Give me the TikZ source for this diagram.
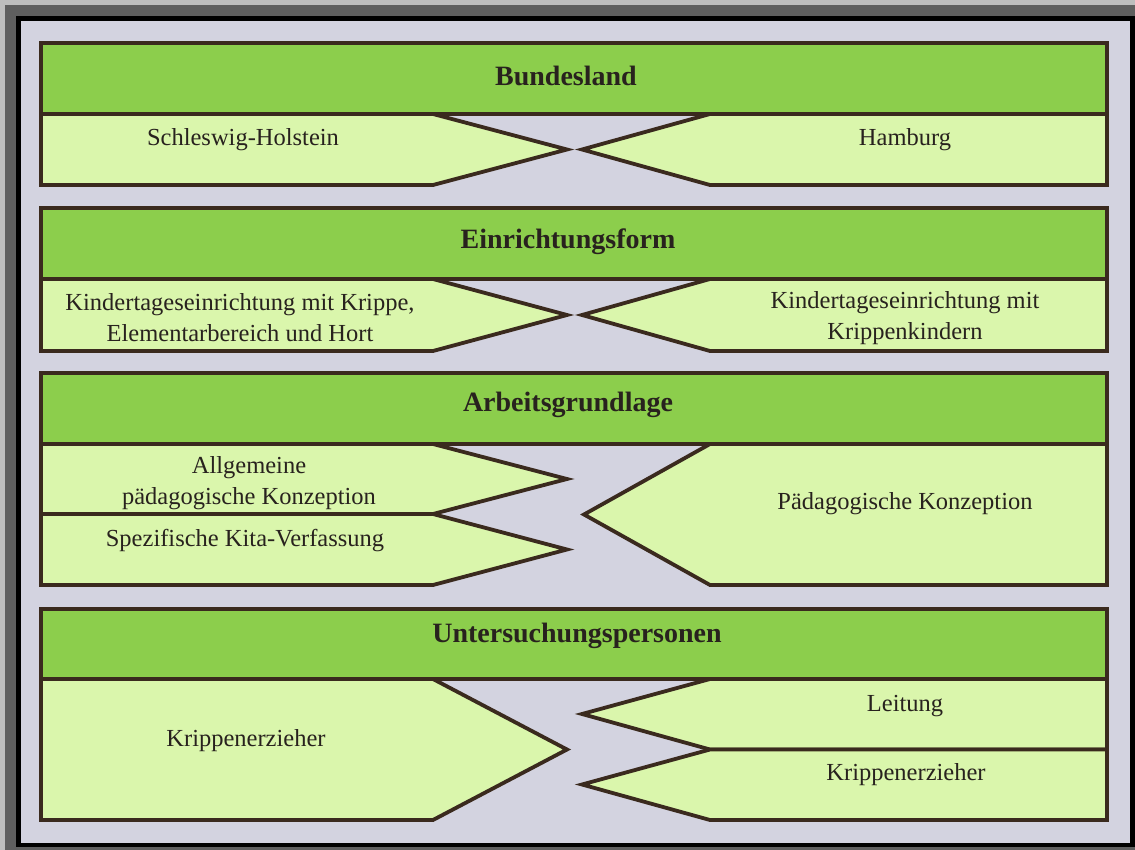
\documentclass[tikz,border=0pt]{standalone}
\usepackage{fontspec}
\setmainfont{Liberation Serif}
\definecolor{hdrgreen}{RGB}{140,206,76}
\definecolor{panegreen}{RGB}{218,246,172}
\definecolor{paper}{RGB}{211,211,224}
\definecolor{edge}{RGB}{58,42,30}
\definecolor{ink}{RGB}{40,34,30}
\definecolor{frameout}{RGB}{190,190,190}
\definecolor{framemid}{RGB}{95,95,95}
\tikzset{
  hdr/.style={fill=hdrgreen, draw=edge, line width=3.8pt},
  pane/.style={fill=panegreen, draw=edge, line width=3.8pt, line join=miter},
  hdrtext/.style={font=\fontsize{28}{32}\selectfont\bfseries, text=ink},
  panetext/.style={font=\fontsize{24.5}{31}\selectfont, text=ink, align=center},
}
\begin{document}
\begin{tikzpicture}[x=1pt, y=-1pt]
      \useasboundingbox (0,0) rectangle (1135,850);
      \fill[frameout] (0,0) rectangle (1135,850);   % frame
      \fill[framemid] (5,5) rectangle (1135,850);
      \fill[black] (16,16) rectangle (1135,847);
      \fill[paper] (21,21) rectangle (1130,843);
      %
      \draw[hdr] (41,43) rectangle (1107,114);   % Bundesland
      \draw[pane] (41,114) -- (433,114) -- (567,149.5) -- (433,185) -- (41,185) -- cycle;
      \draw[pane] (1107,114) -- (710,114) -- (582,149.5) -- (710,185) -- (1107,185) -- cycle;
      \node[hdrtext] (land) at (566,76) {Bundesland};
      \node[panetext] (sh) at (243,140) {Schleswig-Holstein};
      \node[panetext] (hh) at (905,140) {Hamburg};
      %
      \draw[hdr] (41,208) rectangle (1107,279);   % Einrichtungsform
      \draw[pane] (41,279) -- (433,279) -- (567,315) -- (433,351) -- (41,351) -- cycle;
      \draw[pane] (1107,279) -- (710,279) -- (582,315) -- (710,351) -- (1107,351) -- cycle;
      \node[hdrtext] (form) at (568,242) {Einrichtungsform};
      \node[panetext] (kitaall) at (240,318) {Kindertageseinrichtung mit Krippe,\\Elementarbereich und Hort};
      \node[panetext] (kitakr) at (905,318) {Kindertageseinrichtung mit\\Krippenkindern};
      %
      \draw[hdr] (41,373) rectangle (1107,444);   % Arbeitsgrundlage
      \draw[pane] (41,444) -- (433,444) -- (567,479) -- (433,514) -- (41,514) -- cycle;
      \draw[pane] (41,514) -- (433,514) -- (567,549.5) -- (433,585) -- (41,585) -- cycle;
      \draw[pane] (1107,444) -- (710,444) -- (584,514.5) -- (710,585) -- (1107,585) -- cycle;
      \node[hdrtext] (basis) at (568,405) {Arbeitsgrundlage};
      \node[panetext] (konzall) at (249,483) {Allgemeine\\pädagogische Konzeption};
      \node[panetext] (verf) at (245,541) {Spezifische Kita-Verfassung};
      \node[panetext] (konz) at (905,504) {Pädagogische Konzeption};
      %
      \draw[hdr] (41,609) rectangle (1107,679);   % Untersuchungspersonen
      \draw[pane] (41,679) -- (433,679) -- (567,749.5) -- (433,820) -- (41,820) -- cycle;
      \draw[pane] (1107,679) -- (710,679) -- (582,714) -- (710,749.5) -- (1107,749.5) -- cycle;
      \draw[pane] (1107,749.5) -- (710,749.5) -- (582,784.5) -- (710,820) -- (1107,820) -- cycle;
      \node[hdrtext] (pers) at (577,636) {Untersuchungspersonen};
      \node[panetext] (erzl) at (246,741) {Krippenerzieher};
      \node[panetext] (leit) at (905,706) {Leitung};
      \node[panetext] (erzr) at (906,775) {Krippenerzieher};
\end{tikzpicture}
\end{document}
